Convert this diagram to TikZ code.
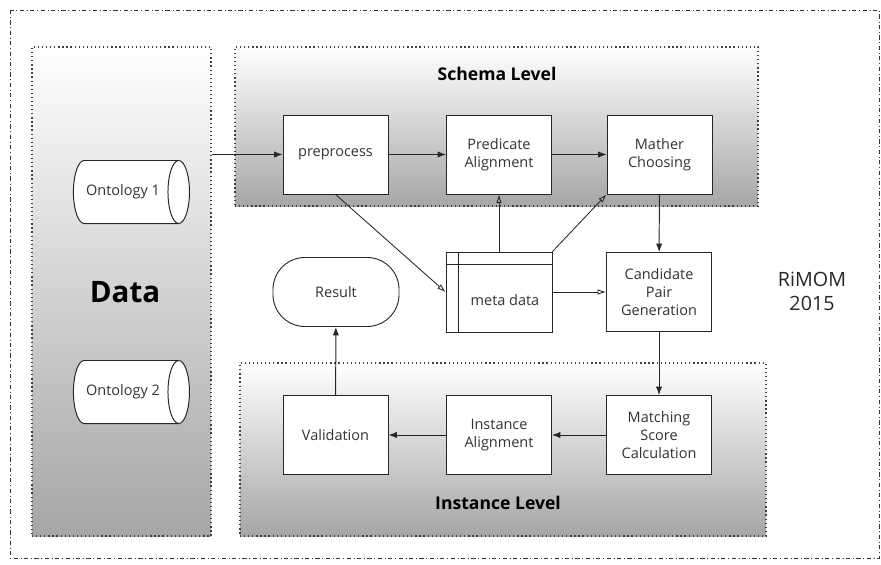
\documentclass[tikz,border=0pt]{standalone}
\usepackage{fontspec}
\setmainfont{Open Sans}
\usetikzlibrary{shapes.geometric, arrows.meta}

\tikzset{
  panel/.style={draw=black!75, dotted, line width=0.9pt, inner sep=0pt,
    top color=white, bottom color=black!35},
  stepbox/.style={draw=black!85, line width=0.65pt, fill=white, align=center,
    minimum width=2.625cm, minimum height=1.975cm, text=black!80,
    font=\fontsize{10.3}{12.8}\selectfont},
  store/.style={cylinder, shape aspect=0.9, draw=black!85, line width=0.7pt,
    fill=white, minimum width=1.575cm, minimum height=2.9cm, text=black!80,
    font=\fontsize{10.3}{12}\selectfont},
  title/.style={font=\bfseries\fontsize{12.5}{15}\selectfont},
  flow/.style={-{Latex[length=6pt,width=4.5pt]}, line width=0.7pt, draw=black!85},
  feed/.style={-{Latex[open,length=6pt,width=4pt]}, line width=0.6pt, draw=black!85}
}

\begin{document}
\begin{tikzpicture}[x=0.025cm, y=-0.025cm]

\useasboundingbox (0,0) rectangle (881,565);
\draw[black!80, dash dot, line width=0.7pt] (10,10) rectangle (879,558);

% the three shaded areas
\node[panel, minimum width=4.475cm, minimum height=12.225cm] (data) at (121.5,291.5) {};
\node[panel, minimum width=13.075cm, minimum height=3.975cm] (schema) at (496.5,126.5) {};
\node[panel, minimum width=13.15cm, minimum height=4.325cm] (instance) at (503,449.5) {};

\node[font=\bfseries\fontsize{21}{25}\selectfont] (datalabel) at (125,292) {Data};
\node[title] (schemalabel) at (497,74) {Schema Level};
\node[title] (instancelabel) at (498,503) {Instance Level};
\node[align=center, font=\fontsize{14}{17}\selectfont, text=black!85] (rimom) at (812,291) {RiMOM\\2015};

\node[store, shape border rotate=0] (onto1) at (123,192) {Ontology 1};
\node[store, shape border rotate=0] (onto2) at (123,392) {Ontology 2};

\node[stepbox] (pre) at (335.5,154.5) {preprocess};
\node[stepbox] (pred) at (499,154.5) {Predicate\\Alignment};
\node[stepbox] (mather) at (659.5,154.5) {Mather\\Choosing};
\node[stepbox] (cand) at (659,292) {Candidate\\Pair\\Generation};
\node[stepbox, minimum width=2.65cm, minimum height=2cm] (meta) at (499,292) {};
\draw[black!85, line width=0.65pt] ([xshift=13*0.025cm]meta.north west) -- ([xshift=13*0.025cm]meta.south west);
\draw[black!85, line width=0.65pt] ([yshift=-13*0.025cm]meta.north west) -- ([yshift=-13*0.025cm]meta.north east);
\node[text=black!80, font=\fontsize{10.3}{12}\selectfont] (metalabel) at (505,300) {meta data};
\node[stepbox, rounded corners=0.8cm, minimum width=3.15cm, minimum height=1.725cm] (result) at (336,292) {Result};
\node[stepbox] (valid) at (335.5,435) {Validation};
\node[stepbox] (inst) at (499,435) {Instance\\Alignment};
\node[stepbox] (match) at (659,435) {Matching\\Score\\Calculation};

\draw[flow] (data.east |- pre) -- (pre);
\draw[flow] (pre) -- (pred);
\draw[flow] (pred) -- (mather);
\draw[flow] (mather) -- (cand);
\draw[flow] (cand) -- (match);
\draw[flow] (match) -- (inst);
\draw[flow] (inst) -- (valid);
\draw[flow] (valid) -- (result);

\draw[feed] (pre.south) -- (meta.west);
\draw[feed] (meta.north) -- (pred.south);
\draw[feed] (meta.north east) -- (mather.south west);
\draw[feed] (meta) -- (cand);

\end{tikzpicture}
\end{document}
